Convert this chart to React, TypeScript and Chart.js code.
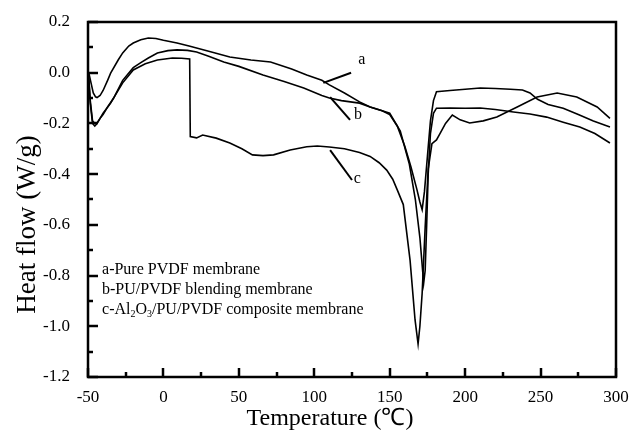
import { useEffect, useRef } from "react";
import { Chart, registerables } from "chart.js";

Chart.register(...registerables);

// ---- data (temperature in °C, heat flow in W/g) ----
const tempA = [-49.5, -48, -46.5, -45, -44, -42, -40, -37, -35, -30, -27, -23, -20, -15, -10, -5, 0, 9, 17, 30, 44, 58, 71, 85, 95, 105, 110, 120, 130, 137, 145, 150, 155, 160, 164, 168, 170, 171.5, 173, 175, 177, 179, 181, 190, 200, 210, 220, 230, 238, 243, 248, 255, 265, 275, 285, 296];
const heatA = [0.0, -0.04, -0.08, -0.095, -0.098, -0.09, -0.07, -0.03, -0.002, 0.05, 0.078, 0.105, 0.117, 0.13, 0.137, 0.135, 0.128, 0.117, 0.105, 0.085, 0.062, 0.05, 0.042, 0.015, -0.009, -0.03, -0.048, -0.08, -0.115, -0.135, -0.15, -0.165, -0.21, -0.29, -0.37, -0.46, -0.51, -0.54, -0.47, -0.33, -0.19, -0.11, -0.075, -0.07, -0.065, -0.06, -0.062, -0.065, -0.068, -0.08, -0.105, -0.125, -0.14, -0.165, -0.19, -0.214];

const tempB = [-49.5, -48.5, -47, -45.5, -44, -42, -40, -37, -33, -27, -20, -15, -10, -4, 3, 9, 16, 22, 30, 40, 50, 66, 80, 93, 105, 110, 118, 124, 130, 137, 145, 150, 157, 163, 167, 170, 172.5, 173.5, 174.5, 175.5, 177, 179, 181, 190, 200, 210, 220, 232, 243, 254, 265, 276, 286, 296];
const heatB = [-0.02, -0.12, -0.2, -0.21, -0.2, -0.18, -0.165, -0.135, -0.1, -0.03, 0.02, 0.04, 0.058, 0.078, 0.087, 0.09, 0.088, 0.082, 0.065, 0.042, 0.025, -0.009, -0.035, -0.06, -0.09, -0.1, -0.11, -0.115, -0.12, -0.135, -0.15, -0.16, -0.23, -0.36, -0.5, -0.65, -0.83, -0.78, -0.6, -0.4, -0.24, -0.16, -0.14, -0.139, -0.14, -0.139, -0.145, -0.155, -0.163, -0.175, -0.195, -0.214, -0.24, -0.277];

const tempC = [-49.5, -48.5, -47, -45.5, -44, -42, -40, -35, -30, -27, -20, -12, -4, 6, 12, 17.4, 17.8, 22, 26, 35, 44, 52, 59, 66, 73, 84, 95, 102, 110, 120, 130, 137, 143, 148, 152, 155, 159, 163.5, 166.8, 168.8, 170, 171.5, 173.5, 175.5, 178, 181, 183.5, 187, 191.5, 196.7, 203, 212, 221, 234.5, 247.7, 261, 274, 287.5, 296];
const heatC = [-0.02, -0.11, -0.19, -0.2, -0.198, -0.18, -0.16, -0.12, -0.07, -0.04, 0.011, 0.035, 0.05, 0.058, 0.057, 0.054, -0.252, -0.257, -0.246, -0.258, -0.277, -0.3, -0.324, -0.327, -0.324, -0.305, -0.292, -0.289, -0.293, -0.3, -0.315, -0.33, -0.355, -0.384, -0.42, -0.462, -0.52, -0.74, -0.975, -1.07, -1.0, -0.87, -0.61, -0.38, -0.28, -0.265, -0.238, -0.2, -0.167, -0.186, -0.198, -0.19, -0.175, -0.135, -0.096, -0.08, -0.096, -0.135, -0.18];

const xMin = -50;
const xMax = 300;
const xStep = 50;
const yMin = -1.2;
const yMax = 0.2;
const yStep = 0.2;

const curveNames = ["a", "b", "c"];
const legendLines = ["a-Pure PVDF membrane", "b-PU/PVDF blending membrane"];
const legendC = ["c-Al", "2", "O", "3", "/PU/PVDF composite membrane"];
const xTitle = "Temperature (\u2103)";
const yTitle = "Heat flow (W/g)";

const FONT = "'Liberation Serif', 'Times New Roman', serif";

// pointer lines for the curve letters, in data units: [from, to, label]
const pointers = [
  { from: [106, -0.04], to: [124.4, 0.0], label: [131.5, 0.05] },
  { from: [110.5, -0.096], to: [123.7, -0.186], label: [129, -0.165] },
  { from: [110.5, -0.305], to: [125, -0.423], label: [128.5, -0.42] },
];

const decor = {
  id: "decor",
  afterDraw(chart: any) {
    const { ctx, chartArea: a } = chart;
    const xs = chart.scales.x;
    const ys = chart.scales.y;
    ctx.save();
    ctx.strokeStyle = "#000";
    ctx.fillStyle = "#000";
    // frame
    ctx.lineWidth = 2.5;
    ctx.strokeRect(a.left, a.top, a.right - a.left, a.bottom - a.top);
    // x ticks (inward)
    for (let i = 0; i <= (xMax - xMin) / (xStep / 2); i++) {
      const v = xMin + i * (xStep / 2);
      const px = Math.round(xs.getPixelForValue(v));
      const len = i % 2 === 0 ? 9 : 5;
      ctx.beginPath();
      ctx.moveTo(px, a.bottom);
      ctx.lineTo(px, a.bottom - len);
      ctx.stroke();
    }
    // y ticks (inward)
    const ny = Math.round((yMax - yMin) / (yStep / 2));
    for (let i = 0; i <= ny; i++) {
      const v = yMin + i * (yStep / 2);
      const py = Math.round(ys.getPixelForValue(v));
      const len = i % 2 === 0 ? 10 : 5;
      ctx.beginPath();
      ctx.moveTo(a.left, py);
      ctx.lineTo(a.left + len, py);
      ctx.stroke();
    }
    // pointers and letters
    ctx.lineWidth = 2;
    ctx.font = `16px ${FONT}`;
    ctx.textAlign = "center";
    ctx.textBaseline = "middle";
    pointers.forEach((p, i) => {
      ctx.beginPath();
      ctx.moveTo(xs.getPixelForValue(p.from[0]), ys.getPixelForValue(p.from[1]));
      ctx.lineTo(xs.getPixelForValue(p.to[0]), ys.getPixelForValue(p.to[1]));
      ctx.stroke();
      ctx.fillText(curveNames[i], xs.getPixelForValue(p.label[0]), ys.getPixelForValue(p.label[1]));
    });
    // legend text
    ctx.textAlign = "left";
    ctx.textBaseline = "alphabetic";
    const lx = xs.getPixelForValue(-40.7);
    const lineY = [-0.795, -0.874, -0.953].map((v) => ys.getPixelForValue(v));
    ctx.font = `16px ${FONT}`;
    legendLines.forEach((t, i) => ctx.fillText(t, lx, lineY[i]));
    let cx = lx;
    legendC.forEach((t, i) => {
      const sub = i === 1 || i === 3;
      ctx.font = sub ? `10px ${FONT}` : `16px ${FONT}`;
      ctx.fillText(t, cx, lineY[2] + (sub ? 3 : 0));
      cx += ctx.measureText(t).width;
    });
    // axis titles
    ctx.font = `24px ${FONT}`;
    ctx.textAlign = "center";
    ctx.textBaseline = "middle";
    ctx.fillText(xTitle, 330, 419);
    ctx.font = `27px ${FONT}`;
    ctx.translate(28, (a.top + a.bottom) / 2 + 25);
    ctx.rotate(-Math.PI / 2);
    ctx.fillText(yTitle, 0, 0);
    ctx.restore();
  },
};

export default function App() {
  const ref = useRef<HTMLCanvasElement | null>(null);
  useEffect(() => {
    const mk = (t: number[], h: number[]) => t.map((x, i) => ({ x, y: h[i] }));
    const ds = [mk(tempA, heatA), mk(tempB, heatB), mk(tempC, heatC)].map((data, i) => ({
      label: curveNames[i],
      data,
      borderColor: "#000",
      borderWidth: 1.6,
      pointRadius: 0,
      tension: 0,
      fill: false,
    }));
    const chart = new Chart(ref.current as HTMLCanvasElement, {
      type: "line",
      data: { datasets: ds },
      options: {
        animation: false,
        responsive: false,
        maintainAspectRatio: false,
        layout: { padding: { top: 22, right: 15, left: 0, bottom: 0 } },
        plugins: { legend: { display: false }, tooltip: { enabled: false } },
        scales: {
          x: {
            type: "linear",
            min: xMin,
            max: xMax,
            grid: { display: false },
            border: { display: false },
            ticks: { stepSize: xStep, padding: 2, color: "#000", font: { family: FONT, size: 17 } },
            afterFit: (s: any) => { s.height = 58; },
          },
          y: {
            type: "linear",
            min: yMin,
            max: yMax,
            grid: { display: false },
            border: { display: false },
            ticks: {
              stepSize: yStep,
              padding: 10,
              color: "#000",
              font: { family: FONT, size: 17 },
              callback: (v: any) => Number(v).toFixed(1),
            },
            afterFit: (s: any) => { s.width = 88; },
          },
        },
      },
      plugins: [decor],
    });
    return () => chart.destroy();
  }, []);
  return (
    <div style={{ position: "fixed", left: 0, top: 0, width: 631, height: 435, background: "#fff" }}>
      <canvas ref={ref} width={631} height={435} style={{ width: 631, height: 435 }} />
    </div>
  );
}
